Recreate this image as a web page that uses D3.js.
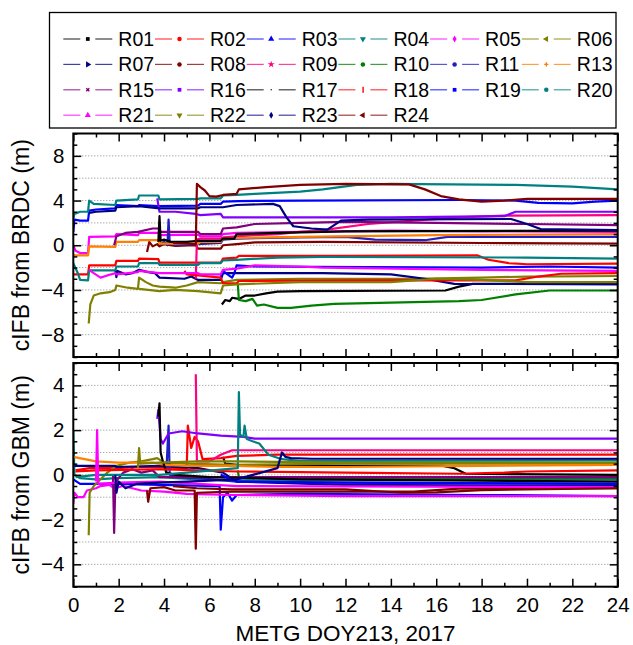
<!DOCTYPE html>
<html>
<head>
<meta charset="utf-8">
<script src="https://cdn.jsdelivr.net/npm/d3@7"></script>
<style>
  body { margin: 0; background: #fff; }
  svg { font-family: Arial, "Liberation Sans", sans-serif; }
</style>
</head>
<body>
<svg id="chart" width="633" height="645"></svg>
<script>
// station names, line colours and legend marker shapes
const names = ['R01','R02','R03','R04','R05','R06','R07','R08','R09','R10','R11','R13',
               'R15','R16','R17','R18','R19','R20','R21','R22','R23','R24'];
const colors = ['#000000','#ff0000','#0000ff','#008080','#ff00ff','#808000','#000080','#800000',
                '#ff0080','#008000','#2020c0','#ff8000','#800080','#8000ff','#000000','#ff0000',
                '#0000ff','#008080','#ff00ff','#808000','#000080','#800000'];
const markers = ['square','circle','triUp','triDown','diamond','triLeft','triRight','circle',
                 'star','circle','circle','plus','x','square','dot','bar','square','circle',
                 'triUp','triDown','diamond','triLeft'];

// cIFB from BRDC, [hour, metres]
const brdc = [
  [[6.55,-5.3],[6.7,-4.9],[6.9,-5.0],[7.0,-4.7],[7.3,-4.8],[7.6,-4.5],[8.0,-4.5],[8.5,-4.3],[9,-4.15],[10,-4.1],[16.4,-4.05],[17,-3.7],[17.6,-3.45],[24,-3.45]],
  [[0,-2.6],[0.65,-2.6],[0.7,-1.8],[1.85,-1.8],[1.9,-1.4],[2.85,-1.4],[2.9,-1.2],[3.75,-1.25],[3.8,-1.55],[6.5,-1.55],[6.6,-1.2],[7.2,-1.1],[7.3,-0.95],[12,-0.95],[17.8,-0.9],[18.3,-1.3],[19.2,-1.6],[20,-1.7],[24,-1.65]],
  [[0,1.2],[0.05,2.3],[0.3,2.2],[0.65,2.2],[0.7,3.1],[1,3.2],[1.85,3.3],[1.9,3.6],[2.85,3.5],[2.9,3.6],[3.75,3.5],[5.5,3.55],[5.6,3.7],[6.5,3.7],[6.6,3.9],[7.3,3.95],[10,4.0],[17,4.05],[19.5,4.0],[20.5,3.8],[22,3.75],[23,3.9],[24,4.0]],
  [[0,2.4],[0.05,2.8],[0.3,3.0],[0.65,3.0],[0.7,4.0],[0.9,3.7],[1.85,3.6],[1.9,4.0],[2.85,4.1],[2.9,4.45],[3.75,4.45],[3.8,4.1],[5.5,4.15],[5.6,4.2],[6.5,4.2],[6.6,4.45],[7.2,4.5],[8,4.6],[10,4.8],[11,5.0],[12.5,5.4],[14,5.5],[19.5,5.4],[22,5.25],[24,5.0]],
  [[0,0.0],[0.1,-0.5],[0.3,-0.7],[0.65,-0.7],[0.7,0.75],[1.85,0.8],[1.9,1.0],[2.85,0.9],[2.9,1.1],[3.75,1.1],[3.8,0.9],[5.5,0.95],[5.6,0.8],[6.5,0.8],[6.6,1.0],[7.2,1.1],[10,1.2],[14,1.3],[18,1.25],[24,1.2]],
  [[0.68,-7.0],[0.75,-5.3],[0.9,-4.5],[1.2,-4.3],[1.6,-4.2],[1.85,-4.0],[1.9,-3.6],[2.4,-3.8],[2.85,-3.9],[2.9,-2.9],[3.2,-3.3],[3.5,-3.6],[3.8,-3.7],[4.5,-3.8],[5,-3.6],[5.5,-3.3],[6.5,-3.4],[6.6,-3.3],[7.2,-3.1],[10,-3.0],[15,-3.0],[18,-2.9],[20,-2.8],[24,-2.75]],
  [[1.85,-2.2],[1.9,-2.85],[1.95,-2.3],[2.3,-2.6],[2.6,-2.5],[2.9,-2.2],[3.3,-2.4],[3.6,-2.5],[3.8,-2.9],[4.9,-3.0],[5.2,-2.8],[5.5,-3.1],[6.5,-3.1],[6.6,-2.5],[7.2,-2.5],[11,-2.5],[14,-2.6],[15.5,-3.0],[16.8,-3.45],[24,-3.5]],
  [[3.25,-0.6],[3.35,0.3],[3.5,-0.1],[3.7,0.1],[3.8,-0.1],[4,0.1],[4.5,-0.05],[5.4,0.0],[5.5,-0.3],[6.5,-0.3],[6.6,0.0],[7.2,0.1],[8,0.25],[11,0.3],[18,0.2],[24,0.15]],
  [[5.4,-3.0],[5.45,0.5],[5.6,0.6],[6.5,0.6],[6.6,0.7],[7.2,0.8],[8,0.9],[9,1.0],[10,1.2],[11,1.35],[13,1.9],[15,2.2],[17,2.5],[19,2.65],[24,2.7]],
  [[7.25,-3.4],[7.3,-4.9],[7.6,-5.0],[7.9,-4.8],[8.1,-5.4],[8.4,-5.3],[9,-5.6],[9.6,-5.6],[10.5,-5.4],[11.5,-5.25],[17,-5.0],[18,-4.9],[19.5,-4.4],[21,-4.05],[24,-4.05]],
  [[3.75,0.4],[3.85,0.1],[4,0.3],[4.15,0.0],[4.2,2.3],[4.25,0.2],[4.5,0.0],[5.5,0.1],[6.5,0.2],[6.6,0.5],[7.2,0.6],[10,0.7],[12,0.75],[13.3,0.5],[15.5,0.45],[16.5,0.75],[24,0.75]],
  [[0,-0.9],[0.65,-0.9],[0.7,-0.1],[1.85,-0.15],[1.9,0.3],[2.85,0.3],[2.9,0.45],[3.75,0.45],[3.8,0.15],[5.5,0.15],[5.6,0.3],[6.5,0.3],[6.6,0.6],[7.2,0.65],[10,0.75],[16,0.9],[24,1.0]],
  [[1.8,0.0],[1.9,0.8],[2.3,1.1],[2.85,1.2],[3.5,1.5],[3.8,1.5],[3.85,1.2],[5.5,1.2],[5.6,1.0],[6.5,1.0],[6.6,1.5],[7.2,1.6],[8,1.9],[10,2.0],[12,2.1],[16,2.0],[20,1.9],[24,1.8]],
  [[3.7,4.2],[3.8,3.0],[4.5,3.0],[5.4,2.8],[5.6,2.7],[6.5,2.8],[6.6,2.5],[7.2,2.5],[10,2.5],[14,2.5],[19,2.6],[19.5,3.0],[24,3.0]],
  [[3.75,0.3],[3.8,2.6],[3.85,0.4],[4,0.5],[4.3,0.3],[5,0.3],[5.5,0.4],[6.5,0.4],[6.6,0.6],[7.1,0.6],[7.2,1.0],[9,1.1],[12,1.25],[24,1.3]],
  [[4.9,-2.3],[5,-2.6],[5.5,-2.7],[6.5,-2.9],[6.6,-3.4],[7.2,-3.4],[7.3,-3.2],[12,-3.15],[19.5,-3.15],[20.5,-2.8],[21.5,-2.55],[24,-2.5]],
  [[6.5,-2.8],[6.6,-2.3],[6.8,-2.6],[7,-2.9],[7.1,-2.5],[7.2,-1.8],[8,-1.9],[18,-2.0],[21,-1.9],[24,-2.0]],
  [[0,-1.6],[0.2,-2.5],[0.3,-3.1],[0.65,-3.15],[0.7,-2.25],[1.85,-2.25],[1.9,-1.9],[2.85,-1.9],[2.9,-1.6],[3.75,-1.6],[3.8,-1.75],[5.5,-1.75],[5.6,-1.6],[6.5,-1.6],[6.6,-1.35],[7.2,-1.3],[9,-1.1],[11,-1.05],[20,-1.1],[24,-1.2]],
  [[0.7,-2.2],[0.9,-2.5],[1.2,-2.9],[1.5,-2.7],[1.85,-2.5],[1.9,-2.6],[2.85,-2.4],[2.9,-2.3],[3.8,-2.5],[5.5,-2.5],[5.6,-2.6],[6.5,-2.6],[6.6,-2.2],[7.2,-2.1],[8,-1.8],[10,-1.9],[11,-2.0],[18,-2.2],[24,-2.3]],
  [[2.9,-3.9],[3.8,-4.1],[4.5,-4.0],[5.5,-4.1],[6.5,-4.3],[6.6,-3.6],[7.2,-3.5],[10,-3.3],[14,-3.3],[16,-3.0],[18,-3.1],[20,-3.3],[24,-3.3]],
  [[0.7,2.9],[1,3.0],[1.85,3.1],[1.9,3.4],[2.9,3.5],[3.8,3.3],[5.5,3.3],[5.6,3.4],[6.6,3.4],[7.2,3.6],[8.8,3.7],[9.1,3.5],[9.4,2.5],[9.7,1.7],[10.5,1.5],[11.2,1.4],[11.8,2.2],[13,2.3],[19.3,2.35],[20,1.9],[20.6,1.45],[24,1.35]],
  [[4.4,0.2],[5.4,0.1],[5.45,5.5],[5.6,5.2],[5.8,4.9],[6,4.4],[6.3,4.35],[6.6,4.5],[7.2,4.6],[7.3,5.0],[8.5,5.2],[10,5.4],[12,5.5],[14.8,5.45],[15.5,5.0],[16.2,4.4],[17,4.1],[18,3.9],[19,4.0],[20,4.15],[24,4.15]]
];

// cIFB from GBM, [hour, metres]
const gbm = [
  [[6.6,0.8],[6.7,0.5],[7.2,0.45],[10,0.4],[16.3,0.4],[16.8,0.3],[17.3,0.05],[24,0.0]],
  [[0.1,0.2],[0.7,0.3],[1.9,0.3],[3,0.35],[5,0.3],[5.05,2.2],[5.2,1.2],[5.35,1.7],[5.5,1.5],[5.7,0.7],[6.5,0.75],[7.2,0.85],[9,0.9],[24,0.9]],
  [[0,-0.2],[0.3,-0.4],[1.9,-0.4],[3.8,-0.45],[6.45,-0.5],[6.5,-2.45],[6.6,-1.0],[6.8,-0.8],[7,-1.15],[7.2,-0.9],[10,-0.85],[18,-0.9],[24,-0.95]],
  [[0,2.0],[0.05,0.0],[0.3,-0.15],[1,-0.2],[1.9,-0.15],[3.8,-0.1],[5.5,-0.2],[7,-0.25],[12,-0.2],[24,-0.2]],
  [[0,-1.3],[0.05,-0.8],[0.2,-1.0],[0.45,-1.0],[0.6,-0.7],[1,-0.6],[1.2,-0.5],[1.6,-0.45],[1.8,-0.6],[2.2,-0.5],[3,-0.7],[4,-0.75],[5,-0.85],[7,-0.9],[12,-0.95],[24,-0.95]],
  [[0.68,-2.7],[0.72,-0.8],[0.9,-0.5],[1.2,-0.2],[1.5,0.1],[1.9,0.4],[2.5,0.55],[3,0.6],[3.5,0.7],[3.7,0.75],[4,0.55],[5,0.5],[7,0.45],[12,0.5],[24,0.5]],
  [[0.05,0.4],[1.85,0.4],[1.9,0.35],[3.8,0.4],[5.5,0.3],[6.6,0.1],[7.2,-0.3],[12,-0.45],[24,-0.5]],
  [[3.25,-0.7],[3.3,-1.2],[3.4,-0.6],[4,-0.55],[4.5,-0.7],[5.35,-0.7],[5.4,-3.3],[5.45,-0.8],[7,-0.75],[15,-0.75],[17,-0.62],[24,-0.6]],
  [[5.4,4.5],[5.45,0.6],[6,0.6],[6.5,0.9],[7,1.1],[8,1.1],[24,1.1]],
  [[7.25,0.2],[7.3,-0.1],[12,-0.15],[24,-0.15]],
  [[4.1,0.1],[4.2,2.2],[4.25,0.0],[4.5,-0.1],[5.5,-0.15],[7.2,-0.3],[12,-0.35],[24,-0.4]],
  [[0,0.8],[0.5,0.7],[1,0.6],[2,0.55],[3.5,0.55],[4,0.45],[5,0.4],[7,0.4],[9,0.35],[12,0.35],[18,0.4],[24,0.45]],
  [[1.75,0.0],[1.8,-2.6],[1.85,-0.5],[1.95,-0.2],[2.2,0.1],[2.6,0.25],[3,0.1],[3.5,0.2],[3.8,-0.1],[5.5,-0.1],[7.2,-0.1],[24,-0.1]],
  [[3.7,2.5],[3.75,2.9],[3.85,1.6],[3.95,1.4],[4.2,1.85],[4.8,1.95],[5.5,1.85],[6.5,1.75],[7.5,1.7],[8,1.62],[24,1.62]],
  [[3.75,2.6],[3.8,3.2],[3.85,1.0],[3.95,0.6],[4.1,0.1],[4.5,0.0],[6,-0.1],[10,-0.2],[24,-0.3]],
  [[0.1,0.15],[1,0.2],[3.8,0.25],[5.5,0.2],[7.2,0.15],[12,0.1],[17,0.05],[19,0.1],[20,0.15],[24,0.2]],
  [[6.5,0.0],[7.2,-0.3],[12,-0.35],[24,-0.4]],
  [[0.1,-0.1],[1,0.0],[3.8,0.0],[5,0.1],[7.25,0.3],[7.3,3.7],[7.35,1.8],[7.5,1.7],[7.55,2.2],[7.65,1.6],[7.9,1.5],[8.2,1.4],[8.6,0.9],[9.2,0.7],[10,0.62],[24,0.65]],
  [[1,-0.3],[1.05,2.0],[1.1,-0.4],[1.9,-0.35],[3.8,-0.3],[5.5,-0.4],[7.2,-0.5],[24,-0.55]],
  [[2.85,0.3],[2.9,1.2],[2.95,0.5],[3.8,0.55],[5.5,0.6],[7.2,0.6],[12,0.55],[24,0.55]],
  [[1.85,0.0],[1.9,-0.8],[2,-0.3],[2.3,-0.6],[2.8,-0.4],[3.8,-0.35],[5,-0.3],[7.2,-0.2],[9,0.3],[9.2,1.0],[9.35,0.8],[9.6,0.75],[10.5,0.72],[24,0.72]],
  [[4.4,-0.5],[5.45,-0.6],[7,-0.65],[12,-0.65],[14.5,-0.8],[16,-0.78],[18,-0.68],[24,-0.6]]
];

const xTicks = d3.range(0, 25, 2);
const brdcLabels = [-8, -4, 0, 4, 8];
const brdcGrid = [-8, -6, -4, -2, 0, 2, 4, 6, 8];
const gbmLabels = [-4, -2, 0, 2, 4];
const gbmGrid = [-4, -3, -2, -1, 0, 1, 2, 3, 4];

const svg = d3.select('#chart');
const x = d3.scaleLinear().domain([0, 24]).range([73.3, 617.7]);

const panels = [
  { id: 'brdc', data: brdc, y: d3.scaleLinear().domain([-10, 10]).range([357, 133.5]),
    labels: brdcLabels, grid: brdcGrid, minor: d3.range(-10, 11, 1), title: 'cIFB from BRDC (m)', showX: false },
  { id: 'gbm', data: gbm, y: d3.scaleLinear().domain([-5, 5]).range([586.7, 363]),
    labels: gbmLabels, grid: gbmGrid, minor: d3.range(-5, 5.01, 0.5), title: 'cIFB from GBM (m)', showX: true }
];

const xMinor = d3.range(1, 24, 2);

panels.forEach(p => {
  const y = p.y;
  const [yb, yt] = y.range();
  const g = svg.append('g');

  g.append('clipPath').attr('id', 'clip-' + p.id)
    .append('rect').attr('x', x(0)).attr('y', yt).attr('width', x(24) - x(0)).attr('height', yb - yt);

  // dotted grid
  g.append('g').selectAll('line').data(p.grid).join('line')
    .attr('x1', x(0)).attr('x2', x(24))
    .attr('y1', d => y(d)).attr('y2', d => y(d))
    .attr('stroke', '#888').attr('stroke-width', 1).attr('stroke-dasharray', '1,2');

  // series
  const line = d3.line().x(d => x(d[0])).y(d => y(d[1]));
  g.append('g').attr('clip-path', 'url(#clip-' + p.id + ')')
    .selectAll('path').data(p.data).join('path')
    .attr('d', line)
    .attr('fill', 'none')
    .attr('stroke', (d, i) => colors[i])
    .attr('stroke-width', 2.2)
    .attr('stroke-linejoin', 'round');

  const minorY = p.minor.filter(v => !p.labels.includes(v));

  // bottom
  g.append('g').attr('transform', `translate(0,${yb})`)
    .call(d3.axisBottom(x).tickValues(xTicks).tickSize(-8).tickPadding(11)
      .tickFormat(p.showX ? d3.format('d') : () => ''));
  g.append('g').attr('transform', `translate(0,${yb})`)
    .call(d3.axisBottom(x).tickValues(xMinor).tickSize(-4).tickFormat(() => ''));
  // top
  g.append('g').attr('transform', `translate(0,${yt})`)
    .call(d3.axisTop(x).tickValues(xTicks).tickSize(-8).tickFormat(() => ''));
  g.append('g').attr('transform', `translate(0,${yt})`)
    .call(d3.axisTop(x).tickValues(xMinor).tickSize(-4).tickFormat(() => ''));
  // left
  g.append('g').attr('transform', `translate(${x(0)},0)`)
    .call(d3.axisLeft(y).tickValues(p.labels).tickSize(-8).tickPadding(9).tickFormat(d3.format('d')));
  g.append('g').attr('transform', `translate(${x(0)},0)`)
    .call(d3.axisLeft(y).tickValues(minorY).tickSize(-4).tickFormat(() => ''));
  // right
  g.append('g').attr('transform', `translate(${x(24)},0)`)
    .call(d3.axisRight(y).tickValues(p.labels).tickSize(-8).tickFormat(() => ''));
  g.append('g').attr('transform', `translate(${x(24)},0)`)
    .call(d3.axisRight(y).tickValues(minorY).tickSize(-4).tickFormat(() => ''));

  g.selectAll('.domain').remove();
  g.selectAll('.tick line').attr('stroke', '#000').attr('stroke-width', 1.5);
  g.selectAll('.tick text').attr('font-size', 20.5).attr('fill', '#000')
    .attr('font-family', 'Arial, "Liberation Sans", sans-serif');

  g.append('rect').attr('x', x(0)).attr('y', yt).attr('width', x(24) - x(0)).attr('height', yb - yt)
    .attr('fill', 'none').attr('stroke', '#000').attr('stroke-width', 2);

  svg.append('text')
    .attr('transform', `translate(29,${(yt + yb) / 2}) rotate(-90)`)
    .attr('text-anchor', 'middle').attr('font-size', 23).text(p.title);
});

svg.append('text').attr('x', (x(0) + x(24)) / 2).attr('y', 641)
  .attr('text-anchor', 'middle').attr('font-size', 22.5).text('METG DOY213, 2017');

// legend
const legend = svg.append('g');
legend.append('rect').attr('x', 49.5).attr('y', 12.5).attr('width', 566.5).attr('height', 115.5)
  .attr('fill', '#fff').attr('stroke', '#000').attr('stroke-width', 1.3);

const symbolFor = {
  square: [d3.symbolSquare, 14, 0], circle: [d3.symbolCircle, 16, 0], triUp: [d3.symbolTriangle, 16, 0],
  triDown: [d3.symbolTriangle, 16, 180], diamond: [d3.symbolDiamond, 14, 0], triLeft: [d3.symbolTriangle, 16, -90],
  triRight: [d3.symbolTriangle, 16, 90], star: [d3.symbolStar, 16, 0], plus: [d3.symbolCross, 10, 0],
  x: [d3.symbolCross, 10, 45], dot: [d3.symbolCircle, 1.5, 0], bar: [d3.symbolSquare, 0, 0]
};

names.forEach((n, i) => {
  const col = i % 6, row = Math.floor(i / 6);
  const x0 = 63.3 + col * 91.7, yy = 39 + row * 25.4;
  const it = legend.append('g').attr('transform', `translate(${x0},${yy})`);
  it.append('line').attr('x1', 0).attr('x2', 17).attr('stroke', colors[i]).attr('stroke-width', 1.2).attr('stroke-opacity', 0.75);
  it.append('line').attr('x1', 32).attr('x2', 49).attr('stroke', colors[i]).attr('stroke-width', 1.2).attr('stroke-opacity', 0.75);
  const m = symbolFor[markers[i]];
  if (markers[i] === 'bar') {
    it.append('rect').attr('x', 24).attr('y', -3).attr('width', 1.4).attr('height', 6).attr('fill', colors[i]);
  } else {
    it.append('path').attr('d', d3.symbol(m[0], m[1])())
      .attr('transform', `translate(24.5,0) rotate(${m[2]})`)
      .attr('fill', colors[i]);
  }
  it.append('text').attr('x', 55).attr('y', 7).attr('font-size', 19.5).text(n);
});
</script>
</body>
</html>
